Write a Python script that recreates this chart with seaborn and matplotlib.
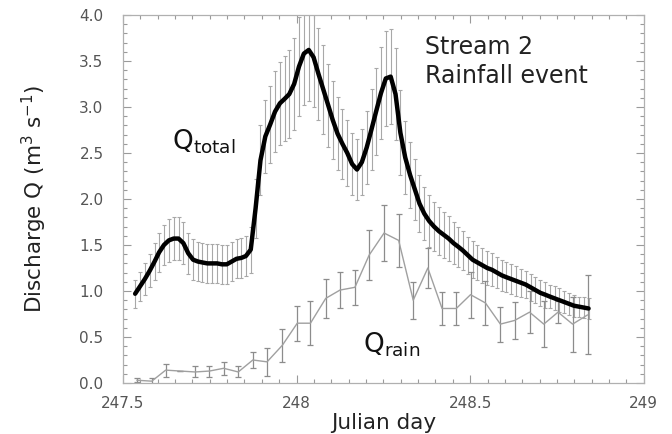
import numpy as np
import pandas as pd
import matplotlib
matplotlib.use("Agg")
import matplotlib.pyplot as plt
from matplotlib.ticker import MultipleLocator, FuncFormatter
import seaborn as sns

# ---------------- data ----------------
total_day = [247.535, 247.549, 247.563, 247.577, 247.591, 247.604, 247.618, 247.632, 247.646, 247.660,
             247.674, 247.688, 247.702, 247.716, 247.729, 247.743, 247.757, 247.771, 247.785, 247.799,
             247.813, 247.827, 247.841, 247.854, 247.868, 247.882, 247.896, 247.910, 247.924, 247.938,
             247.952, 247.966, 247.979, 247.993, 248.007, 248.021, 248.035, 248.049, 248.063, 248.077,
             248.091, 248.104, 248.118, 248.132, 248.146, 248.160, 248.174, 248.188, 248.202, 248.216,
             248.229, 248.243, 248.257, 248.271, 248.285, 248.299, 248.313, 248.327, 248.341, 248.354,
             248.368, 248.382, 248.396, 248.410, 248.424, 248.438, 248.452, 248.466, 248.479, 248.493,
             248.507, 248.521, 248.535, 248.549, 248.563, 248.577, 248.591, 248.604, 248.618, 248.632,
             248.646, 248.660, 248.674, 248.688, 248.702, 248.716, 248.729, 248.743, 248.757, 248.771,
             248.785, 248.799, 248.813, 248.827, 248.841]
total_q = [0.97, 1.05, 1.13, 1.22, 1.32, 1.42, 1.50, 1.55, 1.57, 1.57,
           1.52, 1.41, 1.34, 1.32, 1.31, 1.30, 1.30, 1.30, 1.29, 1.29,
           1.32, 1.35, 1.36, 1.38, 1.45, 1.90, 2.42, 2.68, 2.81, 2.95,
           3.04, 3.09, 3.14, 3.25, 3.44, 3.58, 3.62, 3.54, 3.36, 3.19,
           3.02, 2.86, 2.71, 2.60, 2.50, 2.38, 2.32, 2.40, 2.56, 2.76,
           2.95, 3.15, 3.31, 3.33, 3.14, 2.72, 2.45, 2.26, 2.10, 1.95,
           1.84, 1.76, 1.70, 1.65, 1.61, 1.57, 1.52, 1.48, 1.44, 1.39,
           1.34, 1.31, 1.28, 1.25, 1.23, 1.20, 1.17, 1.15, 1.13, 1.11,
           1.09, 1.07, 1.04, 1.01, 0.98, 0.96, 0.94, 0.92, 0.90, 0.88,
           0.86, 0.84, 0.83, 0.82, 0.81]
total_err = [0.15, 0.16, 0.17, 0.18, 0.20, 0.21, 0.22, 0.23, 0.23, 0.23,
             0.23, 0.22, 0.22, 0.21, 0.21, 0.21, 0.21, 0.21, 0.21, 0.21,
             0.21, 0.21, 0.22, 0.22, 0.25, 0.32, 0.38, 0.40, 0.42, 0.44,
             0.45, 0.46, 0.48, 0.50, 0.54, 0.56, 0.56, 0.54, 0.50, 0.48,
             0.45, 0.42, 0.40, 0.38, 0.36, 0.34, 0.33, 0.36, 0.40, 0.44,
             0.47, 0.50, 0.52, 0.52, 0.50, 0.46, 0.40, 0.36, 0.33, 0.31,
             0.29, 0.28, 0.27, 0.26, 0.25, 0.24, 0.23, 0.22, 0.21, 0.20,
             0.20, 0.19, 0.19, 0.18, 0.18, 0.17, 0.17, 0.16, 0.16, 0.16,
             0.15, 0.15, 0.15, 0.14, 0.14, 0.14, 0.13, 0.13, 0.13, 0.12,
             0.12, 0.12, 0.11, 0.11, 0.11]

rain_day = [247.540, 247.583, 247.623, 247.665, 247.708, 247.749, 247.790, 247.832, 247.874, 247.915,
            247.959, 248.002, 248.040, 248.084, 248.125, 248.168, 248.209, 248.252, 248.294, 248.336,
            248.378, 248.419, 248.460, 248.501, 248.544, 248.587, 248.628, 248.671, 248.712, 248.753,
            248.795, 248.838]
rain_q = [0.03, 0.02, 0.14, 0.13, 0.12, 0.13, 0.16, 0.12, 0.25, 0.23,
          0.41, 0.65, 0.65, 0.92, 1.01, 1.04, 1.39, 1.63, 1.55, 0.90,
          1.25, 0.81, 0.81, 0.96, 0.87, 0.64, 0.68, 0.77, 0.64, 0.77,
          0.64, 0.74]
rain_err = [0.02, 0.03, 0.07, 0.00, 0.06, 0.06, 0.07, 0.06, 0.09, 0.15,
            0.18, 0.19, 0.24, 0.21, 0.20, 0.19, 0.27, 0.30, 0.29, 0.20,
            0.22, 0.18, 0.18, 0.25, 0.24, 0.19, 0.20, 0.23, 0.25, 0.12,
            0.30, 0.43]

x_ticks = [247.5, 248.0, 248.5, 249.0]
x_tick_labels = ["247.5", "248", "248.5", "249"]
y_ticks = [0.0, 0.5, 1.0, 1.5, 2.0, 2.5, 3.0, 3.5, 4.0]

df_total = pd.DataFrame({"day": total_day, "Q": total_q, "err": total_err})
df_rain = pd.DataFrame({"day": rain_day, "Q": rain_q, "err": rain_err})

# ---------------- style ----------------
sns.set_theme(style="ticks")
plt.rcParams["font.family"] = ["DejaVu Sans"]

fig = plt.figure(figsize=(6.72, 4.34), dpi=100)
ax = fig.add_axes([0.183, 0.1175, 0.775, 0.848])

err_col = "#a8a8a8"
rain_col = "#a0a0a0"

# error bars
ax.errorbar(df_total["day"], df_total["Q"], yerr=df_total["err"], fmt="none",
            ecolor=err_col, elinewidth=0.8, capsize=1.5, capthick=0.8, zorder=2)
ax.errorbar(df_rain["day"], df_rain["Q"], yerr=df_rain["err"], fmt="none",
            ecolor="#8c8c8c", elinewidth=0.9, capsize=2.5, capthick=0.9, zorder=2)

# lines
sns.lineplot(data=df_rain, x="day", y="Q", ax=ax, color=rain_col, linewidth=1.0,
             sort=False, errorbar=None, zorder=3)
sns.lineplot(data=df_total, x="day", y="Q", ax=ax, color="black", linewidth=3.2,
             sort=False, errorbar=None, zorder=4)

ax.set_xlim(247.5, 249.0)
ax.set_ylim(0.0, 4.0)
ax.set_xticks(x_ticks)
ax.set_xticklabels(x_tick_labels)
ax.set_yticks(y_ticks)
ax.yaxis.set_major_formatter(FuncFormatter(lambda v, p: f"{v:.1f}"))
ax.xaxis.set_minor_locator(MultipleLocator(0.05))
ax.yaxis.set_minor_locator(MultipleLocator(0.1))

spine_col = "#b0b0b0"
for s in ax.spines.values():
    s.set_visible(True)
    s.set_color(spine_col)
    s.set_linewidth(0.9)

ax.tick_params(which="both", direction="in", top=True, right=True,
               color="#9a9a9a", width=0.8)
ax.tick_params(which="major", length=6)
ax.tick_params(which="minor", length=3)
ax.tick_params(axis="y", which="major", pad=14, labelsize=11, labelcolor="#555555")
ax.tick_params(axis="x", which="major", pad=9, labelsize=11, labelcolor="#555555")

ax.set_xlabel("Julian day", fontsize=15.5, color="#222222", labelpad=2)
ax.set_ylabel(r"Discharge Q (m$^{3}$ s$^{-1}$)", fontsize=15.5, color="#222222", labelpad=22)

ax.text(0.58, 0.945, "Stream 2\nRainfall event", transform=ax.transAxes,
        fontsize=17, color="#222222", va="top", ha="left", linespacing=1.25)
ax.text(0.094, 0.655, r"Q$_{\mathrm{total}}$", transform=ax.transAxes,
        fontsize=19, color="#111111", va="center", ha="left")
ax.text(0.46, 0.105, r"Q$_{\mathrm{rain}}$", transform=ax.transAxes,
        fontsize=19, color="#111111", va="center", ha="left")

fig.savefig("out.png", dpi=100)
